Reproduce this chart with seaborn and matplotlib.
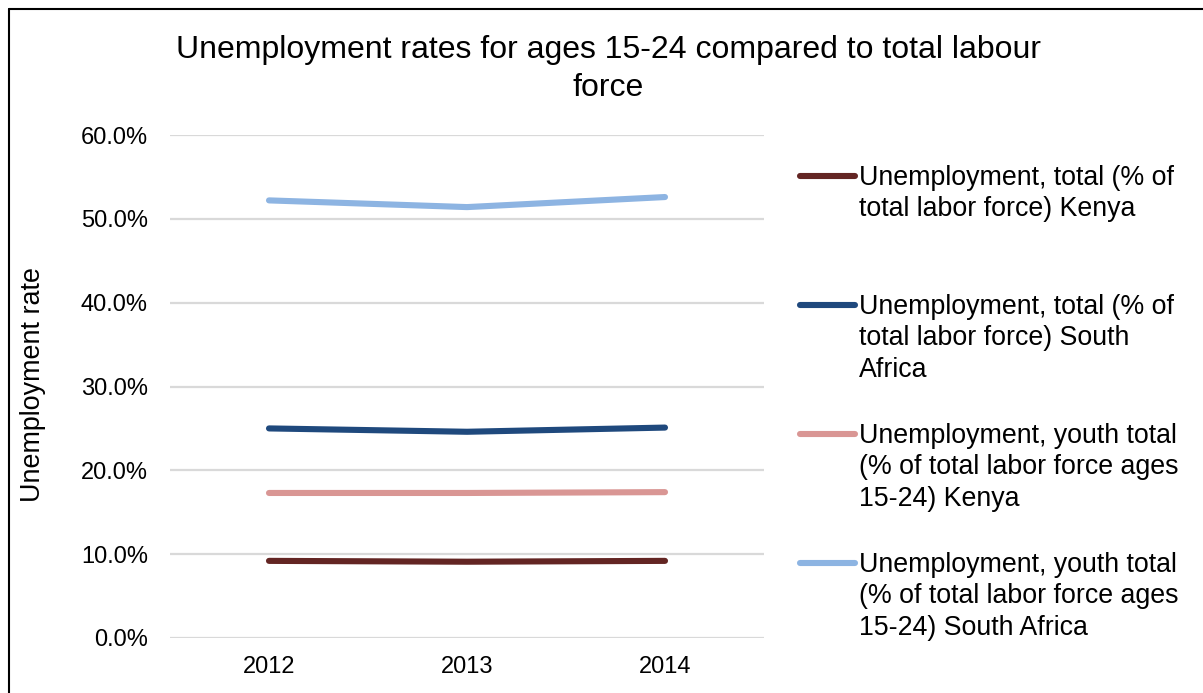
import matplotlib
matplotlib.use("Agg")
import matplotlib.pyplot as plt
import seaborn as sns
import pandas as pd
from matplotlib.ticker import PercentFormatter, MultipleLocator
from matplotlib.lines import Line2D

# Unemployment rates (%) by year
years = ["2012", "2013", "2014"]
kenya_total = [9.2, 9.1, 9.2]
south_africa_total = [25.0, 24.6, 25.1]
kenya_youth = [17.3, 17.3, 17.4]
south_africa_youth = [52.2, 51.4, 52.6]

series_labels = [
    "Unemployment, total (% of\ntotal labor force) Kenya",
    "Unemployment, total (% of\ntotal labor force) South\nAfrica",
    "Unemployment, youth total\n(% of total labor force ages\n15-24) Kenya",
    "Unemployment, youth total\n(% of total labor force ages\n15-24) South Africa",
]
series_values = [kenya_total, south_africa_total, kenya_youth, south_africa_youth]
series_colors = ["#632523", "#1F497D", "#D99694", "#8DB4E2"]

title = "Unemployment rates for ages 15-24 compared to total labour\nforce"
y_label = "Unemployment rate"

W, H = 1203, 693

sns.set_theme(style="white")
plt.rcParams["font.family"] = ["Liberation Sans", "DejaVu Sans"]

df = pd.DataFrame(
    [(lab, yr, v) for lab, vals in zip(series_labels, series_values)
     for yr, v in zip(years, vals)],
    columns=["series", "year", "rate"],
)

fig = plt.figure(figsize=(W / 100, H / 100), dpi=100)
fig.patch.set_facecolor("white")
ax = fig.add_axes([170 / W, 1 - 638 / H, (764 - 170) / W, (638 - 135) / H])

palette = dict(zip(series_labels, series_colors))
sns.lineplot(
    data=df, x="year", y="rate", hue="series", hue_order=series_labels,
    palette=palette, linewidth=4.4, solid_capstyle="round",
    sort=False, legend=False, ax=ax,
)

ax.set_xlim(-0.5, 2.5)
ax.set_ylim(0, 60)
ax.yaxis.set_major_locator(MultipleLocator(10))
ax.yaxis.set_major_formatter(PercentFormatter(100, decimals=1))
ax.yaxis.grid(True, color="#D9D9D9", linewidth=1.6)
ax.xaxis.grid(False)
ax.set_axisbelow(True)
for s in ax.spines.values():
    s.set_visible(False)
ax.tick_params(axis="y", length=0, labelsize=17, pad=16, colors="black")
ax.tick_params(axis="x", length=0, labelsize=17, pad=13, colors="black")
ax.set_xlabel("")
ax.set_ylabel("")

fig.text(33 / W, 1 - 385 / H, y_label, rotation=90, ha="center", va="center",
         fontsize=19.4, color="black")

fig.text(608 / W, 1 - 35 / H, title, ha="center", va="top", fontsize=23,
         linespacing=1.34, color="black")

# Legend: handle aligned with the first line of each wrapped label
entry_y = [176, 305, 434, 563]
for lab, col, yy in zip(series_labels, series_colors, entry_y):
    fy = 1 - yy / H
    fig.add_artist(Line2D([800 / W, 855 / W], [fy, fy], color=col,
                          linewidth=4.4, solid_capstyle="round",
                          transform=fig.transFigure))
    fig.text(859 / W, 1 - (yy - 11) / H, lab, ha="left", va="top",
             fontsize=19.3, linespacing=1.27, color="black")

# Outer frame along the top and left edges
fl = 8.5
fig.add_artist(Line2D([fl / W, fl / W], [0, 1 - fl / H], color="black",
                      linewidth=1.5, transform=fig.transFigure))
fig.add_artist(Line2D([fl / W, 1], [1 - fl / H, 1 - fl / H], color="black",
                      linewidth=1.5, transform=fig.transFigure))

fig.savefig("out.png", dpi=100, facecolor="white")
